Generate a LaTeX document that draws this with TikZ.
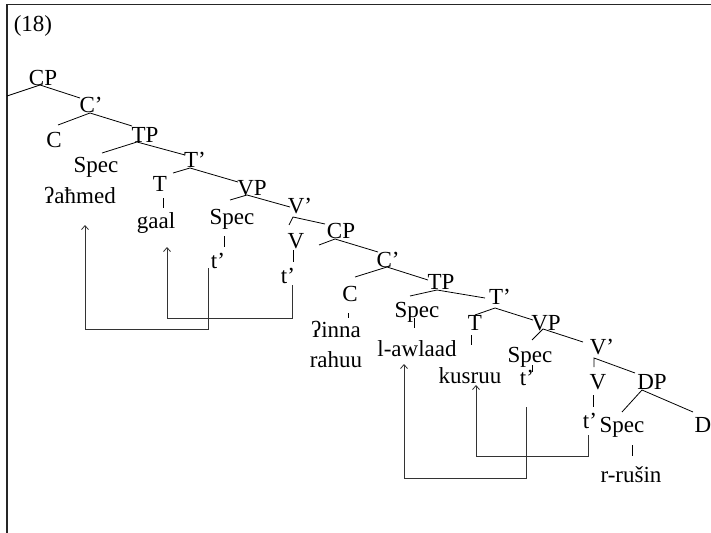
\documentclass[tikz,border=0pt]{standalone}
\usepackage{fontspec}
\setmainfont{Liberation Serif}
\usetikzlibrary{calc,arrows.meta}
\tikzset{
  lab/.style={font=\fontsize{23}{27}\selectfont, inner sep=0pt, anchor=base},
  br/.style={line width=0.8pt, black},
  mv/.style={line width=0.8pt, black!80, -{Straight Barb[length=4pt,width=7pt]}},
  frame/.style={line width=1.5pt, black!85}
}
\begin{document}
\begin{tikzpicture}[x=1pt,y=-1pt]
\useasboundingbox (0,0) rectangle (711,532);
% frame (top and left edges visible)
\coordinate (fTL) at (7,4.3);
\coordinate (fTR) at (712,4.3);
\coordinate (fBL) at (7,533);
\draw[frame] (fBL) -- (fTL) -- (fTR);

% labels
\node[lab] (n18) at (33,32) {(18)};
\node[lab] (cp1) at (43,86) {CP};
\node[lab] (cb1) at (91,113) {C’};
\node[lab] (c1) at (54,147) {C};
\node[lab] (tp1) at (145,142) {TP};
\node[lab] (sp1) at (96,172) {Spec};
\node[lab] (tb1) at (195,167) {T’};
\node[lab] (ahmed) at (80,203) {ʔaħmed};
\node[lab] (t1) at (160,191) {T};
\node[lab] (gaal) at (156,228) {gaal};
\node[lab] (vp1) at (252,195) {VP};
\node[lab] (sp2) at (232,224) {Spec};
\node[lab] (vb1) at (300,213) {V’};
\node[lab] (v1) at (296,248) {V};
\node[lab] (cp2) at (341,238) {CP};
\node[lab] (tr1) at (218,268) {t’};
\node[lab] (tr2) at (288,283) {t’};
\node[lab] (cb2) at (388,267) {C’};
\node[lab] (c2) at (350,301) {C};
\node[lab] (tp2) at (441,289) {TP};
\node[lab] (sp3) at (417,317) {Spec};
\node[lab] (tb2) at (500,304) {T’};
\node[lab] (t2) at (475,330) {T};
\node[lab] (inna) at (336,337) {ʔinna};
\node[lab] (rahuu) at (336,367) {rahuu};
\node[lab] (awlaad) at (417,356) {l-awlaad};
\node[lab] (vp2) at (546,330) {VP};
\node[lab] (kusruu) at (470,383) {kusruu};
\node[lab] (sp4) at (530,362) {Spec};
\node[lab] (vb2) at (602,354) {V’};
\node[lab] (tr3) at (527,385) {t’};
\node[lab] (v2) at (598,389) {V};
\node[lab] (dp) at (652,389) {DP};
\node[lab] (tr4) at (590,428) {t’};
\node[lab] (sp5) at (622,432) {Spec};
\node[lab] (d) at (703,432) {D};
\node[lab] (rusin) at (631,482) {r-rušin};

% free ends
\coordinate (cp1stub) at (7,96);
\coordinate (cp2stub) at ($(cp2.base)+(-22,7)$);

% branches
\draw[br] (cp1stub) -- ($(cp1.base)+(-3,-1)$) -- ($(cb1.base)+(-11,-15)$);
\draw[br] ($(c1.base)+(4,-22)$) -- ($(cb1.base)+(-1,0)$) -- ($(tp1.base)+(-13,-16)$);
\draw[br] ($(sp1.base)+(6,-19)$) -- ($(tp1.base)+(-8,0)$) -- ($(tb1.base)+(-10,-12)$);
\draw[br] ($(t1.base)+(13,-18)$) -- ($(tb1.base)+(-5,1)$) -- ($(vp1.base)+(-14,-13)$);
\draw[br] ($(t1.base)+(3,7)$) -- ($(gaal.base)+(7,-20)$);
\draw[br] ($(sp2.base)+(-2,-24)$) -- ($(vp1.base)+(-5,0)$) -- ($(vb1.base)+(-10,-6)$);
\draw[br] ($(v1.base)+(-7,-23)$) -- ($(vb1.base)+(-7,4)$) -- ($(cp2.base)+(-16,-14)$);
\draw[br] ($(sp2.base)+(-8,12)$) -- ($(tr1.base)+(6,-21)$);
\draw[br] ($(v1.base)+(-3,2)$) -- ($(tr2.base)+(5,-21)$);
\draw[br] (cp2stub) -- ($(cp2.base)+(-6,1)$) -- ($(cb2.base)+(-10,-15)$);
\draw[br] ($(c2.base)+(5,-24)$) -- ($(cb2.base)+(-1,0)$) -- ($(tp2.base)+(-13,-9)$);
\draw[br] ($(c2.base)+(-2,12)$) -- ($(inna.base)+(12,-19)$);
\draw[br] ($(sp3.base)+(-7,-21)$) -- ($(tp2.base)+(-4,1)$) -- ($(tb2.base)+(-15,-6)$);
\draw[br] ($(sp3.base)+(-3,1)$) -- ($(awlaad.base)+(-3,-28)$);
\draw[br] ($(t2.base)+(0,-15)$) -- ($(tb2.base)+(-5,4)$) -- ($(vp2.base)+(-13,-10)$);
\draw[br] ($(t2.base)+(-4,5)$) -- ($(kusruu.base)+(1,-38)$);
\draw[br] ($(sp4.base)+(2,-22)$) -- ($(vp2.base)+(-3,-1)$) -- ($(vb2.base)+(-19,-12)$);
\draw[br] ($(sp4.base)+(2,3)$) -- ($(tr3.base)+(5,-13)$);
\draw[br] ($(v2.base)+(-4,-22)$) -- ($(vb2.base)+(-8,4)$) -- ($(dp.base)+(-17,-16)$);
\draw[br] ($(v2.base)+(-5,6)$) -- ($(tr4.base)+(3,-21)$);
\draw[br] ($(sp5.base)+(0,-20)$) -- ($(dp.base)+(-10,1)$) -- ($(d.base)+(-10,-20)$);
\draw[br] ($(sp5.base)+(10,13)$) -- ($(rusin.base)+(1,-26)$);

% movement arrows
\draw[mv] ($(tr1.base)+(-10,0)$) -- ++(0,61) -| ($(ahmed.base)+(5,22)$);
\draw[mv] ($(tr2.base)+(4,2)$) -- ++(0,33) -| ($(gaal.base)+(11,19)$);
\draw[mv] ($(tr3.base)+(-1,22)$) -- ++(0,71) -| ($(awlaad.base)+(-13,8)$);
\draw[mv] ($(tr4.base)+(-2,7)$) -- ++(0,21) -| ($(kusruu.base)+(6,2)$);
\end{tikzpicture}
\end{document}
